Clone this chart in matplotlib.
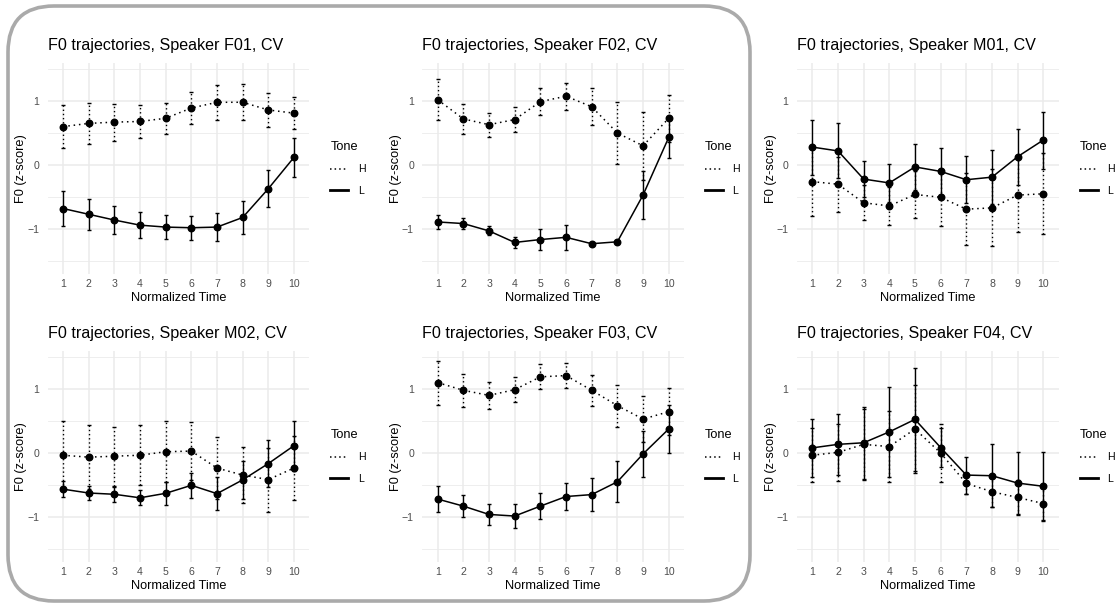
import numpy as np
import matplotlib
matplotlib.use("Agg")
import matplotlib.pyplot as plt
from matplotlib.lines import Line2D
from matplotlib.patches import FancyBboxPatch

plt.rcParams['font.family'] = ['Liberation Sans', 'DejaVu Sans']

# normalized time points
time = np.arange(1, 11)

# mean F0 (z-score) and error-bar half widths, per speaker and tone
f01_h = [0.60, 0.65, 0.67, 0.68, 0.73, 0.89, 0.98, 0.98, 0.86, 0.81]
f01_h_err = [0.34, 0.32, 0.29, 0.26, 0.24, 0.25, 0.27, 0.28, 0.27, 0.245]
f01_l = [-0.68, -0.77, -0.86, -0.94, -0.97, -0.98, -0.97, -0.82, -0.37, 0.12]
f01_l_err = [0.27, 0.245, 0.22, 0.20, 0.19, 0.19, 0.22, 0.255, 0.29, 0.30]

f02_h = [1.02, 0.72, 0.63, 0.71, 0.99, 1.075, 0.91, 0.50, 0.30, 0.73]
f02_h_err = [0.32, 0.23, 0.19, 0.20, 0.21, 0.21, 0.29, 0.48, 0.53, 0.37]
f02_l = [-0.89, -0.915, -1.03, -1.21, -1.165, -1.13, -1.23, -1.20, -0.47, 0.43]
f02_l_err = [0.115, 0.09, 0.07, 0.085, 0.16, 0.20, 0.02, 0.02, 0.37, 0.32]

m01_h = [-0.26, -0.30, -0.59, -0.64, -0.46, -0.505, -0.69, -0.67, -0.47, -0.45]
m01_h_err = [0.54, 0.43, 0.27, 0.30, 0.37, 0.45, 0.56, 0.60, 0.58, 0.63]
m01_l = [0.28, 0.22, -0.22, -0.28, -0.03, -0.10, -0.23, -0.19, 0.13, 0.39]
m01_l_err = [0.43, 0.43, 0.275, 0.30, 0.36, 0.365, 0.37, 0.42, 0.435, 0.445]

m02_h = [-0.035, -0.065, -0.05, -0.035, 0.02, 0.03, -0.235, -0.345, -0.415, -0.235]
m02_h_err = [0.53, 0.50, 0.46, 0.47, 0.48, 0.45, 0.48, 0.44, 0.50, 0.50]
m02_l = [-0.565, -0.625, -0.645, -0.70, -0.63, -0.505, -0.635, -0.42, -0.165, 0.115]
m02_l_err = [0.13, 0.11, 0.12, 0.12, 0.18, 0.20, 0.26, 0.30, 0.37, 0.39]

f03_h = [1.10, 0.98, 0.90, 0.99, 1.19, 1.21, 0.98, 0.74, 0.53, 0.645]
f03_h_err = [0.345, 0.26, 0.215, 0.20, 0.195, 0.19, 0.245, 0.33, 0.36, 0.37]
f03_l = [-0.72, -0.83, -0.96, -0.985, -0.83, -0.68, -0.65, -0.45, -0.015, 0.375]
f03_l_err = [0.20, 0.17, 0.17, 0.185, 0.20, 0.21, 0.255, 0.32, 0.355, 0.37]

f04_h = [-0.035, 0.01, 0.135, 0.10, 0.375, 0.0, -0.475, -0.605, -0.695, -0.79]
f04_h_err = [0.42, 0.44, 0.55, 0.56, 0.68, 0.45, 0.16, 0.24, 0.27, 0.27]
f04_l = [0.08, 0.135, 0.16, 0.33, 0.525, 0.085, -0.345, -0.355, -0.47, -0.52]
f04_l_err = [0.45, 0.48, 0.56, 0.70, 0.81, 0.30, 0.29, 0.49, 0.49, 0.53]

speakers = ['F01', 'F02', 'M01', 'M02', 'F03', 'F04']
h_means = [f01_h, f02_h, m01_h, m02_h, f03_h, f04_h]
h_errs = [f01_h_err, f02_h_err, m01_h_err, m02_h_err, f03_h_err, f04_h_err]
l_means = [f01_l, f02_l, m01_l, m02_l, f03_l, f04_l]
l_errs = [f01_l_err, f02_l_err, m01_l_err, m02_l_err, f03_l_err, f04_l_err]

W, H = 1120, 605
fig = plt.figure(figsize=(W / 100, H / 100), dpi=100)

# panel boxes in pixels: left, top, width, height
col_left = [47.6, 422.3, 796.9]
row_top = [62.6, 350.6]
pw, ph = 261.8, 211.2

grid_col = '#ebebeb'
tick_col = '#4d4d4d'

for i, spk in enumerate(speakers):
    r, c = divmod(i, 3)
    left = col_left[c] / W
    bottom = 1 - (row_top[r] + ph) / H
    ax = fig.add_axes([left, bottom, pw / W, ph / H])

    ax.set_xlim(0.4, 10.6)
    ax.set_ylim(-1.7, 1.6)
    ax.set_xticks(time)
    ax.set_yticks([-1, 0, 1])
    ax.set_yticks([-1.5, -0.5, 0.5, 1.5], minor=True)
    ax.grid(True, which='major', color=grid_col, linewidth=1.1)
    ax.grid(True, which='minor', axis='y', color=grid_col, linewidth=0.6)
    ax.set_axisbelow(True)
    for s in ax.spines.values():
        s.set_visible(False)
    ax.tick_params(which='both', length=0, labelsize=7.6, labelcolor=tick_col)
    ax.tick_params(axis='y', pad=6)
    ax.tick_params(axis='x', pad=4)

    # H tone: dotted
    eb = ax.errorbar(time, h_means[i], yerr=h_errs[i], fmt='none', ecolor='black',
                     elinewidth=1.0, capsize=1.5, capthick=1.0)
    eb[2][0].set_linestyle((0, (1, 2)))
    ax.plot(time, h_means[i], color='black', linestyle=(0, (1, 2.5)), linewidth=1.1,
            marker='o', markersize=4.7)

    # L tone: solid
    ax.errorbar(time, l_means[i], yerr=l_errs[i], fmt='none', ecolor='black',
                elinewidth=1.0, capsize=1.5, capthick=1.0)
    ax.plot(time, l_means[i], color='black', linestyle='-', linewidth=1.1,
            marker='o', markersize=4.7)

    ax.set_title(f'F0 trajectories, Speaker {spk}, CV', loc='left', fontsize=11.6, pad=9)
    ax.set_xlabel('Normalized Time', fontsize=9.2, labelpad=2)
    ax.set_ylabel('F0 (z-score)', fontsize=9.2, labelpad=0)

    handles = [Line2D([], [], color='black', linestyle=(0, (1, 2)), linewidth=1.1),
               Line2D([], [], color='black', linestyle='-', linewidth=2)]
    ax.legend(handles, ['H', 'L'], title='Tone', loc='center left',
              bbox_to_anchor=(1.08, 0.5), frameon=False, fontsize=7.6,
              title_fontsize=9.2, handlelength=1.7, handletextpad=0.9,
              labelspacing=1.1, borderpad=0, borderaxespad=0, alignment='left')

# rounded grey box around the first two columns
box = FancyBboxPatch((0.08, 0.04), 7.42, 5.95,
                     boxstyle='round,pad=0,rounding_size=0.46',
                     transform=fig.dpi_scale_trans, fill=False,
                     edgecolor='#aaaaaa', linewidth=2.6)
fig.patches.append(box)

fig.savefig('out.png', dpi=100)
